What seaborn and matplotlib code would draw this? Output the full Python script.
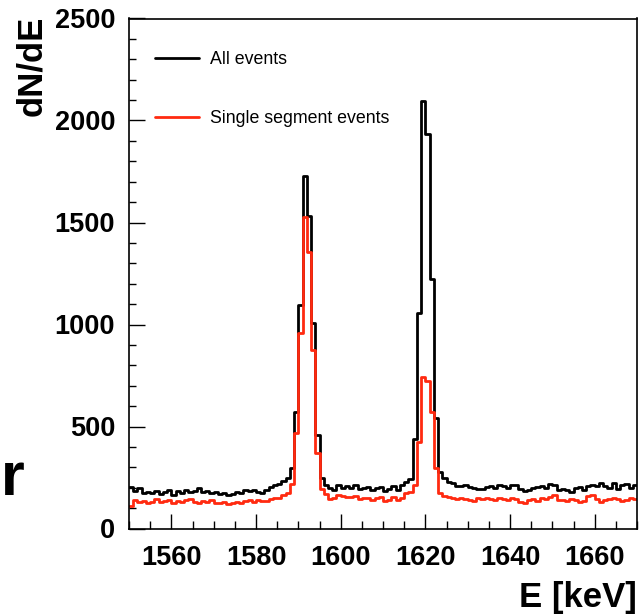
import numpy as np
import pandas as pd
import matplotlib
matplotlib.use("Agg")
import matplotlib.pyplot as plt
from matplotlib.ticker import MultipleLocator
import seaborn as sns

# ---- data (1 keV bins, 1550..1670 keV) ----
bin_start = 1550
bin_stop = 1670
all_events = [
    205, 185, 200, 175, 180, 175, 185, 170, 180, 190,   # 1550-1559
    165, 185, 175, 190, 180, 185, 200, 180, 185, 175,   # 1560-1569
    180, 170, 175, 165, 170, 180, 175, 190, 185, 190,   # 1570-1579
    180, 175, 190, 205, 215, 220, 235, 250, 295, 570,   # 1580-1589
    1095, 1730, 1530, 1005, 460, 250, 215, 200, 190, 215,  # 1590-1599
    200, 210, 200, 215, 195, 200, 205, 190, 200, 205,   # 1600-1609
    185, 195, 210, 190, 215, 230, 245, 440, 1055, 2095,  # 1610-1619
    1935, 1225, 540, 275, 250, 230, 225, 210, 210, 215,  # 1620-1629
    205, 200, 195, 195, 205, 210, 200, 215, 210, 200,   # 1630-1639
    215, 215, 195, 185, 190, 200, 205, 210, 200, 220,   # 1640-1649
    215, 190, 195, 190, 180, 200, 205, 190, 210, 215,   # 1650-1659
    210, 225, 210, 200, 225, 195, 215, 220, 200, 215,   # 1660-1669
]
single_segment = [
    110, 140, 130, 135, 125, 130, 145, 130, 135, 140,   # 1550-1559
    125, 135, 130, 140, 145, 130, 125, 135, 130, 140,   # 1560-1569
    125, 125, 130, 120, 125, 130, 125, 135, 140, 130,   # 1570-1579
    140, 135, 135, 145, 150, 150, 165, 175, 220, 470,   # 1580-1589
    960, 1525, 1355, 875, 370, 195, 170, 145, 150, 165,  # 1590-1599
    160, 155, 155, 160, 145, 150, 150, 140, 150, 155,   # 1600-1609
    135, 140, 155, 140, 150, 175, 180, 212, 425, 745,   # 1610-1619
    725, 570, 295, 175, 160, 155, 150, 145, 150, 145,   # 1620-1629
    140, 135, 150, 145, 150, 145, 140, 150, 145, 140,   # 1630-1639
    150, 145, 130, 125, 140, 145, 135, 150, 145, 155,   # 1640-1649
    165, 140, 140, 135, 145, 140, 130, 135, 160, 165,   # 1650-1659
    145, 130, 140, 145, 150, 145, 135, 140, 150, 145,   # 1660-1669
]
labels = ["All events", "Single segment events"]
x_ticks = [1560, 1580, 1600, 1620, 1640, 1660]
y_ticks = [0, 500, 1000, 1500, 2000, 2500]

centers = np.arange(bin_start, bin_stop) + 0.5
df = pd.DataFrame({"E": np.concatenate([centers, centers]),
                   "counts": all_events + single_segment,
                   "series": [labels[0]] * len(centers) + [labels[1]] * len(centers)})

sns.set_style("ticks")
plt.rcParams["font.family"] = ["Liberation Sans", "DejaVu Sans"]
plt.rcParams["text.color"] = "black"
plt.rcParams["axes.labelcolor"] = "black"
plt.rcParams["xtick.color"] = "black"
plt.rcParams["ytick.color"] = "black"

W, H = 642, 614
fig = plt.figure(figsize=(W / 100, H / 100), dpi=100)
ax = fig.add_axes([129 / W, 1 - 528.5 / H, (637 - 129) / W, (528.5 - 18.5) / H])

colors = {labels[0]: "black", labels[1]: "#ff2a10"}
for lab in labels:
    sub = df[df["series"] == lab]
    sns.histplot(data=sub, x="E", weights="counts", binwidth=1,
                 binrange=(bin_start, bin_stop), element="step",
                 fill=False, color=colors[lab], linewidth=2.0, label=lab, ax=ax)

ax.set_xlim(bin_start, bin_stop)
ax.set_ylim(0, 2500)
ax.set_xticks(x_ticks)
ax.set_yticks(y_ticks)
ax.xaxis.set_minor_locator(MultipleLocator(5))
ax.yaxis.set_minor_locator(MultipleLocator(100))
ax.tick_params(axis="both", which="both", direction="in", colors="black",
               labelcolor="black")
ax.tick_params(axis="x", which="major", length=11, width=1.0, pad=12, labelsize=19.5)
ax.tick_params(axis="x", which="minor", length=5.5, width=1.0)
ax.tick_params(axis="y", which="major", length=11.5, width=1.0, pad=10, labelsize=19.5)
ax.tick_params(axis="y", which="minor", length=5, width=1.0)
for lbl in ax.get_xticklabels() + ax.get_yticklabels():
    lbl.set_fontweight("bold")
for sp in ax.spines.values():
    sp.set_visible(True)
    sp.set_linewidth(1.2)
    sp.set_color("black")

ax.set_xlabel("E [keV]", fontsize=25, fontweight="bold", loc="right")
ax.xaxis.set_label_coords(1.0, -0.102)
ax.set_ylabel("dN/dE", fontsize=25, fontweight="bold", loc="top")
ax.yaxis.set_label_coords(-0.16, 1.005)

leg = ax.legend(loc="upper left", bbox_to_anchor=(155 / W, 1 - 51 / H),
                bbox_transform=fig.transFigure, frameon=False, borderpad=0,
                borderaxespad=0, handlelength=2.5, handletextpad=0.6,
                labelspacing=2.36, fontsize=12.8)

fig.text(1 / W, 1 - 495 / H, "r", ha="left", va="baseline", fontsize=44,
         fontweight="bold")

fig.savefig("out.png", dpi=100)
